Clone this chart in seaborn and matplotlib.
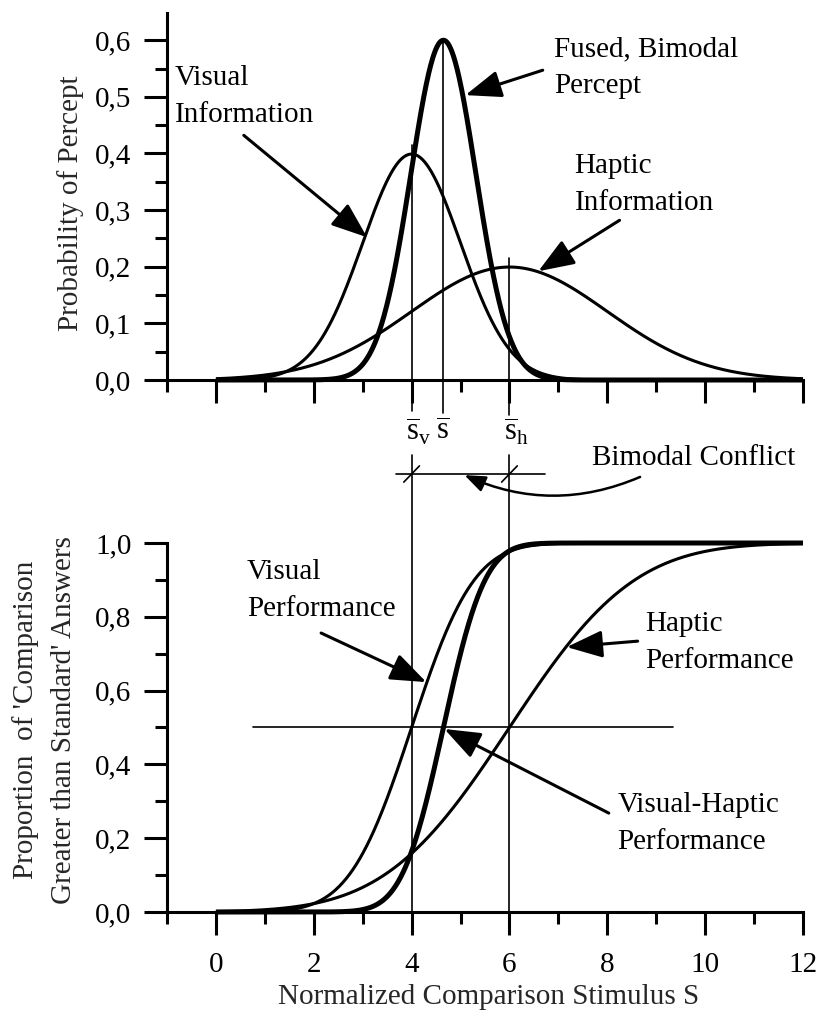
import math
import numpy as np
import pandas as pd
import matplotlib
matplotlib.use("Agg")
import matplotlib.pyplot as plt
import seaborn as sns
from matplotlib.ticker import FixedLocator, FuncFormatter, NullFormatter

# ---------------- data ----------------
cues = ["Visual", "Haptic", "Visual-Haptic"]
cue_means = [4.0, 6.0, 4.65]          # mean of each cue's estimate
cue_sds = [1.0, 2.0, 0.665]           # spread of each cue's estimate
stim_range = [0.0, 12.0]
x_major_ticks = [0, 2, 4, 6, 8, 10, 12]
x_minor_ticks = [-1, 1, 3, 5, 7, 9, 11]
top_yticks = [0.0, 0.1, 0.2, 0.3, 0.4, 0.5, 0.6]
top_yminor = [0.05, 0.15, 0.25, 0.35, 0.45, 0.55]
bot_yticks = [0.0, 0.2, 0.4, 0.6, 0.8, 1.0]
bot_yminor = [0.1, 0.3, 0.5, 0.7, 0.9]
mean_labels = [r"$\overline{\mathrm{s}}_{\mathrm{v}}$",
               r"$\overline{\mathrm{s}}_{\mathrm{h}}$",
               r"$\overline{\mathrm{s}}$"]
threshold = 0.5
threshold_span = [0.76, 9.34]
conflict_span = [3.69, 6.72]

# ---------------- style ----------------
sns.set_style("ticks")
plt.rcParams["font.family"] = ["Liberation Serif", "DejaVu Serif"]
plt.rcParams["mathtext.fontset"] = "custom"
plt.rcParams["mathtext.rm"] = "Liberation Serif"
plt.rcParams["mathtext.it"] = "Liberation Serif:italic"
plt.rcParams["text.color"] = "black"
FS = 21
LW_AX = 2.2

S = np.linspace(stim_range[0], stim_range[1], 1201)
rows = []
for name, m, sd in zip(cues, cue_means, cue_sds):
    pdf = np.exp(-0.5 * ((S - m) / sd) ** 2) / (sd * math.sqrt(2 * math.pi))
    cdf = np.array([0.5 * (1 + math.erf((s - m) / (sd * math.sqrt(2)))) for s in S])
    rows.append(pd.DataFrame({"S": S, "pdf": pdf, "cdf": cdf, "cue": name}))
df = pd.concat(rows, ignore_index=True)

W, H = 821, 1021
fig = plt.figure(figsize=(W / 100, H / 100), dpi=100)
ax_top = fig.add_axes([167 / W, 1 - 380 / H, 636 / W, 367 / H])
ax_bot = fig.add_axes([167 / W, 1 - 912 / H, 636 / W, 369 / H])

widths = {"Visual": 2.2, "Haptic": 2.2, "Visual-Haptic": 3.6}
for name in ["Visual", "Haptic", "Visual-Haptic"]:
    sub = df[df["cue"] == name]
    sns.lineplot(data=sub, x="S", y="pdf", ax=ax_top, color="black",
                 lw=widths[name], legend=False, zorder=3)
    sns.lineplot(data=sub, x="S", y="cdf", ax=ax_bot, color="black",
                 lw=widths[name], legend=False, zorder=3)
for ax in (ax_top, ax_bot):
    for ln in ax.lines:
        ln.set_clip_on(False)
        ln.set_solid_capstyle("butt")

comma = FuncFormatter(lambda v, p: f"{v:.1f}".replace(".", ","))
for ax in (ax_top, ax_bot):
    ax.set_xlim(-1, 12)
    sns.despine(ax=ax)
    for sp in ("left", "bottom"):
        ax.spines[sp].set_linewidth(LW_AX)
        ax.spines[sp].set_color("black")
    ax.xaxis.set_major_locator(FixedLocator(x_major_ticks))
    ax.xaxis.set_minor_locator(FixedLocator(x_minor_ticks))
    ax.tick_params(which="both", bottom=True, left=True, top=False, right=False)
    ax.tick_params(which="major", direction="out", length=16.5, width=LW_AX,
                   color="black", labelsize=FS, pad=9, labelcolor="black")
    ax.tick_params(which="minor", direction="out", length=8.6, width=LW_AX,
                   color="black")
    ax.tick_params(axis="x", which="major", pad=12)
    ax.yaxis.set_major_formatter(comma)
    ax.set_facecolor("none")

ax_top.set_ylim(0, 0.648)
ax_top.yaxis.set_major_locator(FixedLocator(top_yticks))
ax_top.yaxis.set_minor_locator(FixedLocator(top_yminor))
ax_top.xaxis.set_major_formatter(NullFormatter())
ax_top.set_xlabel("")
ax_top.set_ylabel("Probability of Percept", fontsize=FS)
ax_top.yaxis.set_label_coords(-0.152, 0.482)
ax_top.yaxis.label.set_va("center")

ax_bot.set_ylim(0, 1.0)
ax_bot.yaxis.set_major_locator(FixedLocator(bot_yticks))
ax_bot.yaxis.set_minor_locator(FixedLocator(bot_yminor))
ax_bot.set_ylabel("Proportion  of 'Comparison\nGreater than Standard' Answers",
                  fontsize=FS)
ax_bot.yaxis.label.set_linespacing(1.6)
ax_bot.yaxis.set_label_coords(-0.193, 0.52)
ax_bot.yaxis.label.set_va("center")
ax_bot.set_xlabel("Normalized Comparison Stimulus S", fontsize=FS)
ax_bot.xaxis.set_label_coords(0.506, -0.230)
ax_bot.xaxis.label.set_va("center")

# ---------------- reference lines ----------------
REF_LW = 1.2
line_tops = {"Visual": 0.415, "Haptic": 0.215, "Visual-Haptic": 0.60}
gap_top = {"Visual": -0.055, "Haptic": -0.062, "Visual-Haptic": -0.058}
for name, m in zip(cues, cue_means):
    ax_top.plot([m, m], [line_tops[name], gap_top[name]], color="black",
                lw=REF_LW, clip_on=False, zorder=2)
    if name != "Visual-Haptic":
        ax_bot.plot([m, m], [0, 1.238], color="black", lw=REF_LW,
                    clip_on=False, zorder=2)

ax_bot.plot(threshold_span, [threshold, threshold], color="black", lw=REF_LW, zorder=2)

# mean labels between the panels
for name, m, lab in zip(cues, cue_means, mean_labels):
    ax_bot.text(m + (0.14 if name != "Visual-Haptic" else 0.0), 1.30, lab,
                fontsize=22, ha="center", va="center", clip_on=False)

# bimodal conflict marker
yc = 1.187
ax_bot.plot(conflict_span, [yc, yc], color="black", lw=REF_LW, clip_on=False)
for m in cue_means[:2]:
    ax_bot.plot([m - 0.16, m + 0.16], [yc - 0.022, yc + 0.022], color="black",
                lw=REF_LW, clip_on=False)
ax_bot.text(7.68, 1.230, "Bimodal Conflict", fontsize=FS, ha="left", va="center",
            clip_on=False)
ax_bot.annotate("", xy=(5.08, 1.184), xytext=(8.67, 1.179),
                arrowprops=dict(arrowstyle="-|>,head_length=0.9,head_width=0.35",
                                mutation_scale=14, color="black", lw=1.8,
                                shrinkA=0, shrinkB=0,
                                connectionstyle="arc3,rad=-0.22"),
                annotation_clip=False)

# ---------------- annotations ----------------
def label_arrow(ax, text, tx, ty, start, tip):
    ax.text(tx, ty, text, fontsize=FS, ha="left", va="center",
            linespacing=1.55, clip_on=False)
    ax.annotate("", xy=tip, xytext=start,
                arrowprops=dict(arrowstyle="-|>,head_length=1.0,head_width=0.38",
                                mutation_scale=22, color="black", lw=2.2,
                                shrinkA=0, shrinkB=0),
                annotation_clip=False)

label_arrow(ax_top, "Visual\nInformation", -0.84, 0.501, (0.57, 0.432), (3.09, 0.252))
label_arrow(ax_top, "Fused, Bimodal\nPercept", 6.92, 0.551, (6.68, 0.547), (5.10, 0.503))
label_arrow(ax_top, "Haptic\nInformation", 7.33, 0.346, (8.25, 0.282), (6.59, 0.192))
label_arrow(ax_bot, "Visual\nPerformance", 0.63, 0.870, (2.15, 0.756), (4.30, 0.623))
label_arrow(ax_bot, "Haptic\nPerformance", 8.77, 0.729, (8.62, 0.734), (7.17, 0.718))
label_arrow(ax_bot, "Visual-Haptic\nPerformance", 8.21, 0.241, (8.03, 0.268), (4.67, 0.496))

fig.savefig("out.png", dpi=100, facecolor="white")
